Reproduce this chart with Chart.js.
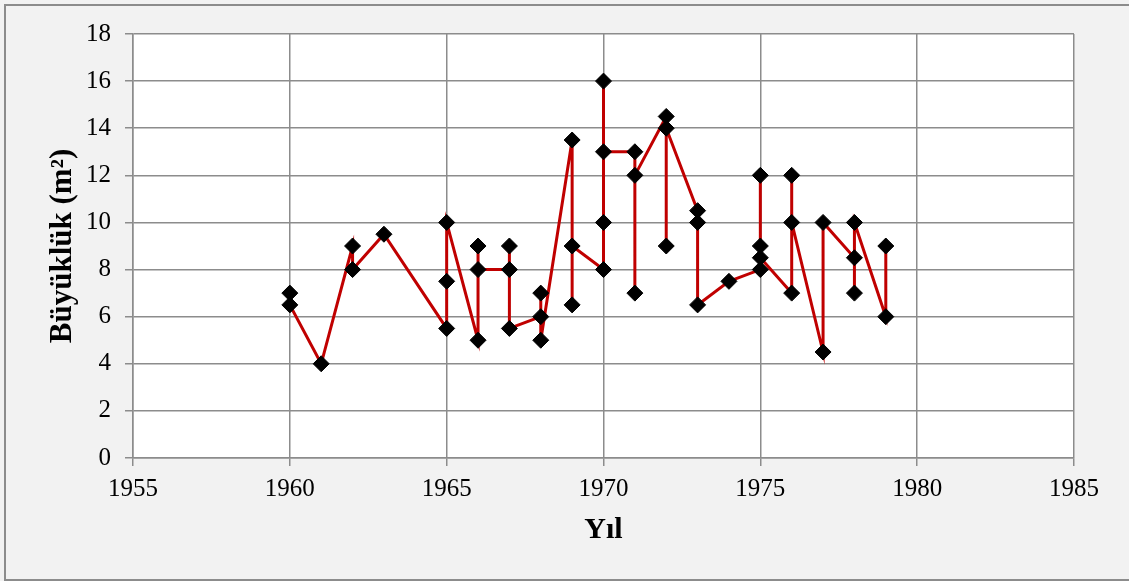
<!DOCTYPE html>
<html>
<head>
<meta charset="utf-8">
<script src="https://cdn.jsdelivr.net/npm/chart.js@4/dist/chart.umd.min.js"></script>
<style>
  html, body { margin: 0; padding: 0; background: #f2f2f2; }
  canvas { display: block; }
</style>
</head>
<body>
<canvas id="chart" width="1129" height="581"></canvas>
<script>
// measurements in path order: several per year, joined in the order they were taken
const years = [1960, 1960, 1961, 1962, 1962, 1963, 1965, 1965, 1965,
    1966, 1966, 1966, 1967, 1967, 1967, 1968, 1968, 1968,
    1969, 1969, 1969, 1970, 1970, 1970, 1970, 1971, 1971, 1971,
    1972, 1972, 1972, 1973, 1973, 1973, 1974, 1975, 1975, 1975, 1975,
    1976, 1976, 1976, 1977, 1977, 1978, 1978, 1978, 1979, 1979];
const sizes = [7, 6.5, 4, 9, 8, 9.5, 5.5, 7.5, 10,
    5, 9, 8, 8, 9, 5.5, 6, 7, 5,
    13.5, 6.5, 9, 8, 10, 16, 13, 13, 7, 12,
    14.5, 9, 14, 10.5, 10, 6.5, 7.5, 8, 12, 9, 8.5,
    7, 12, 10, 4.5, 10, 8.5, 7, 10, 6, 9];

const xTicks = [1955, 1985, 5];   // min, max, step
const yTicks = [0, 18, 2];

const points = years.map((yr, i) => ({ x: yr, y: sizes[i] }));

const gridColor = '#8c8c8c';
const serif = "'Liberation Serif', 'Times New Roman', serif";

// grey page, white plot area, thin frame round the whole figure
const frame = {
    id: 'frame',
    beforeDraw(chart) {
        const { ctx, chartArea: a } = chart;
        ctx.save();
        ctx.fillStyle = '#f2f2f2';
        ctx.fillRect(0, 0, chart.width, chart.height);
        ctx.fillStyle = '#ffffff';
        ctx.fillRect(a.left, a.top, a.right - a.left, a.bottom - a.top);
        ctx.strokeStyle = '#8c8c8c';
        ctx.lineWidth = 2;
        ctx.strokeRect(5, 5, chart.width + 10, chart.height - 6);
        ctx.restore();
    }
};

const ctx = document.getElementById('chart');

new Chart(ctx, {
    type: 'scatter',
    data: {
        datasets: [{
            label: 'Büyüklük',
            data: points,
            showLine: true,
            borderColor: '#c00000',
            borderWidth: 3,
            pointStyle: 'rectRot',
            pointRadius: 8,
            pointHoverRadius: 8,
            pointBackgroundColor: '#000000',
            pointBorderColor: '#000000',
            pointBorderWidth: 1
        }]
    },
    options: {
        responsive: false,
        animation: false,
        layout: { padding: { top: 34, right: 55, left: 0, bottom: 0 } },
        plugins: {
            legend: { display: false },
            tooltip: { enabled: false }
        },
        scales: {
            x: {
                type: 'linear',
                min: xTicks[0],
                max: xTicks[1],
                afterFit: (s) => { s.height = 123; },
                ticks: {
                    stepSize: xTicks[2],
                    padding: 8,
                    color: '#000000',
                    font: { family: serif, size: 25 },
                    callback: (v) => String(v)
                },
                grid: { color: gridColor, lineWidth: 1.5, tickLength: 8, tickColor: gridColor },
                border: { color: gridColor, width: 1.5 },
                title: {
                    display: true,
                    text: 'Yıl',
                    color: '#000000',
                    font: { family: serif, size: 30, weight: 'bold' },
                    padding: { top: 0, bottom: 33 }
                }
            },
            y: {
                min: yTicks[0],
                max: yTicks[1],
                afterFit: (s) => { s.width = 133; },
                ticks: {
                    stepSize: yTicks[2],
                    padding: 14,
                    color: '#000000',
                    font: { family: serif, size: 25 }
                },
                grid: { color: gridColor, lineWidth: 1.5, tickLength: 8, tickColor: gridColor },
                border: { color: gridColor, width: 1.5 },
                title: {
                    display: true,
                    text: 'Büyüklük (m²)',
                    color: '#000000',
                    font: { family: serif, size: 31, weight: 'bold' },
                    padding: { top: 44, bottom: 0 }
                }
            }
        }
    },
    plugins: [frame]
});
</script>
</body>
</html>
